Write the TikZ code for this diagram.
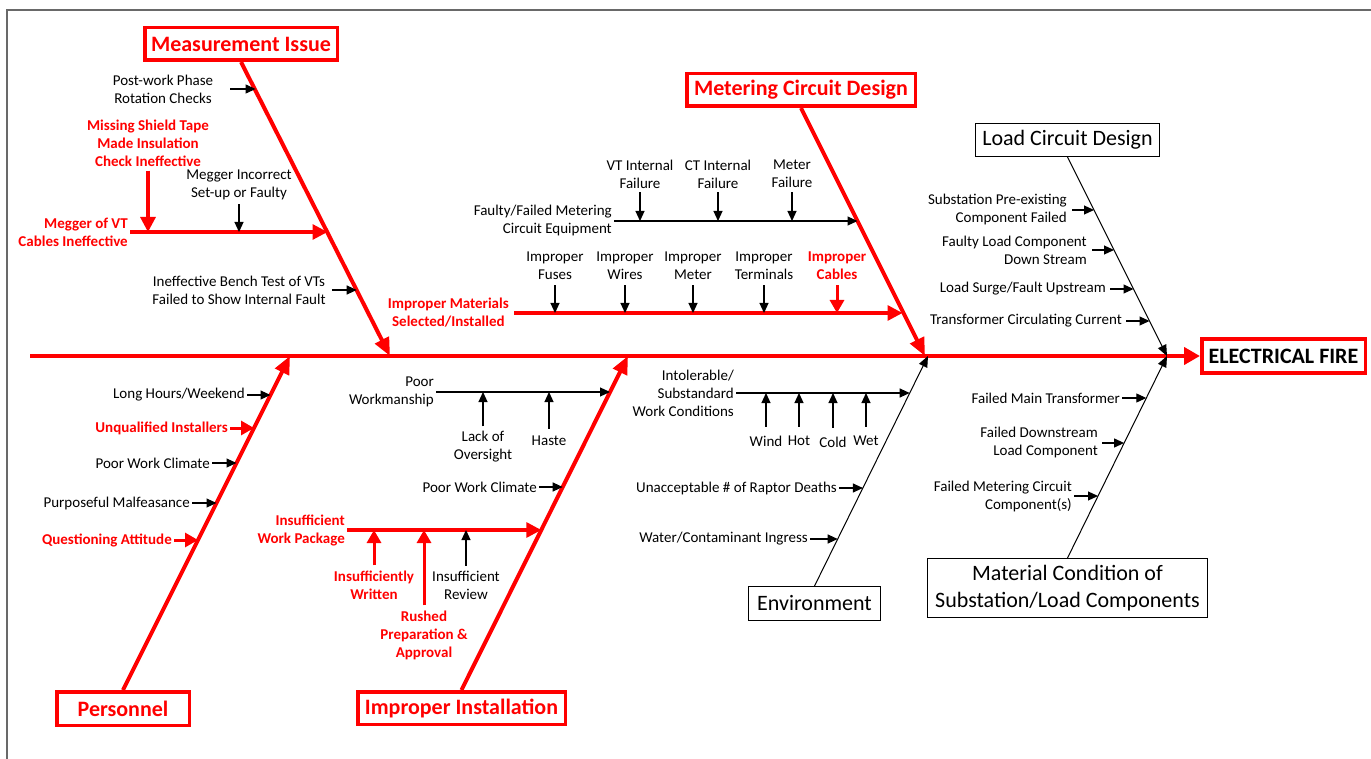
\documentclass[tikz,border=0pt]{standalone}
\usepackage{fontspec}
\setmainfont{Carlito}
\usetikzlibrary{arrows.meta,calc}
\definecolor{fbred}{RGB}{255,0,0}
\definecolor{framegray}{RGB}{105,105,105}
\begin{document}
\begin{tikzpicture}[x=1pt,y=-1pt,
  small/.style={font=\fontsize{15}{18}\selectfont, inner sep=2pt, text=black},
  smallred/.style={font=\bfseries\fontsize{15}{18}\selectfont, inner sep=2pt, text=fbred},
  redbox/.style={draw=fbred, line width=3.5pt, text=fbred, font=\bfseries\fontsize{22}{27}\selectfont, inner sep=0pt, align=center},
  blackbox/.style={draw=black, line width=1pt, text=black, font=\fontsize{22}{27}\selectfont, inner sep=0pt, align=center},
  bone/.style={draw=fbred, line width=4pt, -{Triangle[length=18pt,width=15pt]}},
  spine/.style={draw=fbred, line width=4pt, -{Triangle[length=16pt,width=17pt]}},
  kbone/.style={draw=black, line width=1pt, -{Triangle[length=11pt,width=9pt]}},
  rarrow/.style={draw=fbred, line width=3.2pt, -{Triangle[length=15pt,width=15pt]}},
  rshort/.style={draw=fbred, line width=3pt, -{Triangle[length=13pt,width=14pt]}},
  karrow/.style={draw=black, line width=1.1pt, -{Triangle[length=10pt,width=9pt]}},
]
\useasboundingbox (0,0) rectangle (1371,759);
% frame
\coordinate (fr-bl) at (7,759);
\coordinate (fr-tl) at (7,10);
\coordinate (fr-tr) at (1371,10);
\draw[framegray, line width=1.6pt] (fr-bl) -- (fr-tl) -- (fr-tr);

% ===== main boxes =====
\node[redbox, minimum width=192.5pt, minimum height=32.5pt] (mi) at (241,44) {Measurement Issue};
\node[redbox, minimum width=228.5pt, minimum height=32.5pt] (mcd) at (801,90) {Metering Circuit Design};
\node[redbox, minimum width=132.5pt, minimum height=33.5pt] (per) at (123,708.5) {Personnel};
\node[redbox, minimum width=207.5pt, minimum height=32.5pt] (ii) at (461.5,708) {Improper Installation};
\node[redbox, minimum width=163.5pt, minimum height=33.5pt, text=black] (ef) at (1283.5,356) {ELECTRICAL FIRE};
\node[blackbox, minimum width=184pt, minimum height=33pt] (lcd) at (1067.5,140) {Load Circuit Design};
\node[blackbox, minimum width=132pt, minimum height=34pt] (env) at (814.5,603.5) {Environment};
\node[blackbox, minimum width=280pt, minimum height=59pt] (mat) at (1067.5,588) {Material Condition of\\Substation/Load Components};

% ===== spine and bones =====
\coordinate (sp0) at (30,356);
\coordinate (mi-t) at (390,356);
\coordinate (mcd-t) at (925,356);
\coordinate (lcd-t) at (1167,356);
\coordinate (per-t) at (290,356);
\coordinate (ii-t) at (628,356);
\coordinate (env-t) at (928,356);
\coordinate (mat-t) at (1167,356);
\draw[spine] (sp0) -- (ef.west);
\draw[bone] (mi.south) -- (mi-t);
\draw[bone] (mcd.south) -- (mcd-t);
\draw[bone] (per.north) -- (per-t);
\draw[bone] (ii.north) -- (ii-t);
\draw[kbone] (lcd.south) -- (lcd-t);
\draw[kbone] (env.north) -- (env-t);
\draw[kbone] (mat.north) -- (mat-t);

% ===== Measurement Issue =====
\node[small, align=center] (pw) at (163,89) {Post-work Phase\\Rotation Checks};
\coordinate (pw-s) at (230,89);
\coordinate (pw-t) at (255.6,89);
\draw[karrow] (pw-s) -- (pw-t);

\node[smallred, align=center] (ms) at (148,143) {Missing Shield Tape\\Made Insulation\\Check Ineffective};
\node[smallred, align=right, anchor=east] (mv) at (130,232) {Megger of VT\\Cables Ineffective};
\coordinate (mv-t) at (327.5,232);
\draw[rarrow] (mv.east) -- (mv-t);
\coordinate (ms-t) at (148,232);
\draw[rarrow] ([yshift=-2pt]ms.south) -- (ms-t);

\node[small, align=center] (mic) at (239,185) {Megger Incorrect\\Set-up or Faulty};
\coordinate (mic-t) at (239,232);
\draw[karrow] ([yshift=-2pt]mic.south) -- (mic-t);

\node[small, align=center] (bt) at (239,290) {Ineffective Bench Test of VTs\\Failed to Show Internal Fault};
\coordinate (bt-t) at (356.7,290);
\draw[karrow] ([xshift=4pt]bt.east) -- (bt-t);

% ===== Metering Circuit Design =====
\node[small, align=center] (vt) at (640,174) {VT Internal\\Failure};
\node[small, align=center] (ctf) at (718,174) {CT Internal\\Failure};
\node[small, align=center] (mtf) at (792,174) {Meter\\Failure};
\node[small, align=right, anchor=east] (ff) at (614,221) {Faulty/Failed Metering\\Circuit Equipment};
\coordinate (ff-t) at (857.5,221);
\draw[karrow] (ff.east) -- (ff-t);
\foreach \n in {vt,ctf,mtf} \draw[karrow] ([yshift=-2pt]\n.south) -- (\n.south |- ff-t);

\node[small, align=center] (ifu) at (555,266) {Improper\\Fuses};
\node[small, align=center] (iwi) at (625,266) {Improper\\Wires};
\node[small, align=center] (ime) at (693,266) {Improper\\Meter};
\node[small, align=center] (ite) at (764,266) {Improper\\Terminals};
\node[smallred, align=center] (ica) at (837,266) {Improper\\Cables};
\node[smallred, align=center, anchor=east] (imat) at (511,313) {Improper Materials\\Selected/Installed};
\coordinate (imat-t) at (902.5,313);
\draw[rarrow] ([xshift=3pt]imat.east) -- (imat-t);
\foreach \n in {ifu,iwi,ime,ite} \draw[karrow] ([yshift=-3pt]\n.south) -- (\n.south |- imat-t);
\draw[rshort] ([yshift=-3pt]ica.south) -- (ica.south |- imat-t);

% ===== Load Circuit Design =====
\node[small, align=right, anchor=east] (spe) at (1069,210) {Substation Pre-existing\\Component Failed};
\coordinate (spe-t) at (1094,210);
\draw[karrow] ([xshift=3pt]spe.east) -- (spe-t);
\node[small, align=right, anchor=east] (flc) at (1089,250) {Faulty Load Component\\Down Stream};
\coordinate (flc-t) at (1114,250);
\draw[karrow] ([xshift=3pt]flc.east) -- (flc-t);
\node[small, anchor=east] (lsf) at (1108,289) {Load Surge/Fault Upstream};
\coordinate (lsf-t) at (1133.5,289);
\draw[karrow] ([xshift=2pt]lsf.east) -- (lsf-t);
\node[small, anchor=east] (tcc) at (1124,321) {Transformer Circulating Current};
\coordinate (tcc-t) at (1149.5,321);
\draw[karrow] ([xshift=2pt]tcc.east) -- (tcc-t);

% ===== Personnel =====
\node[small, anchor=east] (lhw) at (247,395) {Long Hours/Weekend};
\coordinate (lhw-t) at (270.5,395);
\draw[karrow] (lhw.east) -- (lhw-t);
\node[smallred, anchor=east] (uqi) at (230,428) {Unqualified Installers};
\coordinate (uqi-t) at (254,428);
\draw[rshort] (uqi.east) -- (uqi-t);
\node[small, anchor=east] (pwc1) at (212,463) {Poor Work Climate};
\coordinate (pwc1-t) at (236.5,463);
\draw[karrow] (pwc1.east) -- (pwc1-t);
\node[small, anchor=east] (pm) at (192,503) {Purposeful Malfeasance};
\coordinate (pm-t) at (216.5,503);
\draw[karrow] (pm.east) -- (pm-t);
\node[smallred, anchor=east] (qa) at (174,540) {Questioning Attitude};
\coordinate (qa-t) at (198,540);
\draw[rshort] (qa.east) -- (qa-t);

% ===== Improper Installation =====
\node[small, align=right, anchor=east] (pwk) at (436,392) {Poor\\Workmanship};
\coordinate (pwk-t) at (610,392);
\draw[karrow] (pwk.east) -- (pwk-t);
\node[small, align=center] (loo) at (483,447) {Lack of\\Oversight};
\node[small] (hst) at (549,441) {Haste};
\draw[karrow] ([yshift=3pt]loo.north) -- (loo.north |- pwk-t);
\draw[karrow] ([yshift=5pt]hst.north) -- (hst.north |- pwk-t);

\node[small, anchor=east] (pwc2) at (539,487) {Poor Work Climate};
\coordinate (pwc2-t) at (562.7,487);
\draw[karrow] (pwc2.east) -- (pwc2-t);

\node[smallred, align=right, anchor=east] (iwp) at (347,530) {Insufficient\\Work Package};
\coordinate (iwp-t) at (541.3,530);
\draw[rarrow] (iwp.east) -- (iwp-t);
\node[smallred, align=center] (isw) at (374,585) {Insufficiently\\Written};
\node[small, align=center] (isr) at (466,585) {Insufficient\\Review};
\node[smallred, align=center] (rpa) at (424,635) {Rushed\\Preparation \&\\Approval};
\draw[rshort] ([yshift=3pt]isw.north) -- (isw.north |- iwp-t);
\draw[rshort] ([yshift=3pt]rpa.north) -- (rpa.north |- iwp-t);
\draw[karrow] ([yshift=3pt]isr.north) -- (isr.north |- iwp-t);

% ===== Environment =====
\node[small, align=right, anchor=east] (iwc) at (736,393) {Intolerable/\\Substandard\\Work Conditions};
\coordinate (iwc-t) at (909.7,393);
\draw[karrow] (iwc.east) -- (iwc-t);
\node[small] (wind) at (766,441) {Wind};
\node[small] (hot) at (799,441) {Hot};
\node[small] (cold) at (833,442) {Cold};
\node[small] (wet) at (866,441) {Wet};
\foreach \n in {wind,hot,cold,wet} \draw[karrow] ([yshift=7pt]\n.north) -- (\n.north |- iwc-t);
\node[small, anchor=east] (urd) at (839,488) {Unacceptable \# of Raptor Deaths};
\coordinate (urd-t) at (862.9,488);
\draw[karrow] (urd.east) -- (urd-t);
\node[small, anchor=east] (wci) at (810,539) {Water/Contaminant Ingress};
\coordinate (wci-t) at (837.7,539);
\draw[karrow] (wci.east) -- (wci-t);

% ===== Material Condition =====
\node[small, anchor=east] (fmt) at (1122,398) {Failed Main Transformer};
\coordinate (fmt-t) at (1146.3,398);
\draw[karrow] (fmt.east) -- (fmt-t);
\node[small, align=right, anchor=east] (fdl) at (1100,443) {Failed Downstream\\Load Component};
\coordinate (fdl-t) at (1124.1,443);
\draw[karrow] ([xshift=2pt]fdl.east) -- (fdl-t);
\node[small, align=right, anchor=east] (fmc) at (1074,496) {Failed Metering Circuit\\Component(s)};
\coordinate (fmc-t) at (1098,496);
\draw[karrow] (fmc.east) -- (fmc-t);
\end{tikzpicture}
\end{document}
